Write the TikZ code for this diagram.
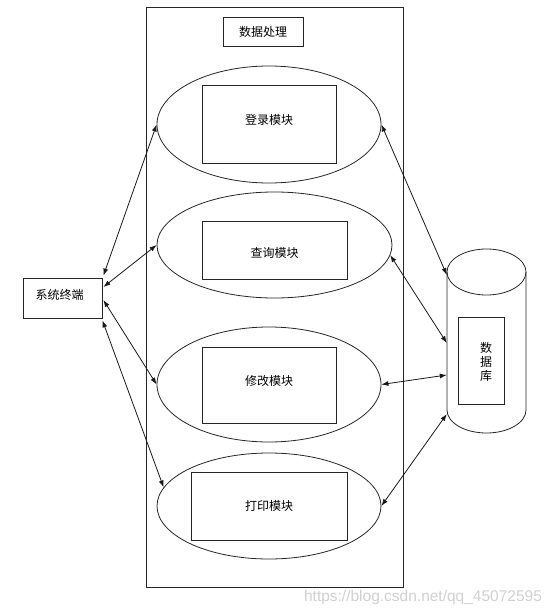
\documentclass[tikz,border=0pt]{standalone}
\usepackage{fontspec}
\newfontfamily\cjk{Noto Sans CJK SC}
\setsansfont{Liberation Sans}
\usetikzlibrary{shapes.geometric,arrows.meta,calc}
\begin{document}
\begin{tikzpicture}[x=1pt,y=-1pt,
  lin/.style={draw=black!85,line width=0.8pt},
  modell/.style={lin,ellipse,inner sep=0pt},
  cjkfont/.style={font=\cjk\fontsize{12}{14}\selectfont},
  modbox/.style={lin,rectangle,inner sep=0pt,cjkfont},
  conn/.style={draw=black!90,line width=0.8pt,{Latex[length=7pt,width=5pt]}-{Latex[length=7pt,width=5pt]}}
]
\useasboundingbox (0,0) rectangle (554,616);
\fill[white] (0,0) rectangle (554,616);
% outer frame
\node[lin,rectangle,minimum width=257,minimum height=580,inner sep=0pt] (frame) at (274.5,297) {};
\node[modbox,minimum width=80,minimum height=29] (title) at (263,31.5) {数据处理};
% ellipses
\node[modell,minimum width=224,minimum height=117] (e1) at (269,124.5) {};
\node[modell,minimum width=235,minimum height=106] (e2) at (274.5,245) {};
\node[modell,minimum width=224,minimum height=115] (e3) at (269,384.5) {};
\node[modell,minimum width=224,minimum height=106] (e4) at (269,506) {};
% inner boxes
\node[modbox,minimum width=134,minimum height=78,label={[cjkfont,yshift=4pt]center:登录模块}] (m1) at (269,124) {};
\node[modbox,minimum width=145,minimum height=58,label={[cjkfont,yshift=-3pt]center:查询模块}] (m2) at (274.5,250) {};
\node[modbox,minimum width=134,minimum height=76,label={[cjkfont,yshift=4pt]center:修改模块}] (m3) at (269,385) {};
\node[modbox,minimum width=156,minimum height=68] (m4) at (269,506) {打印模块};
% terminal
\node[modbox,minimum width=79,minimum height=40,label={[cjkfont,xshift=-3pt,yshift=3pt]center:系统终端}] (term) at (62.5,298) {};
% database cylinder body
\node[rectangle,inner sep=0pt,minimum width=79,minimum height=161] (db) at (486.5,352.5) {};
\draw[lin] (486.5,272) ellipse [x radius=39.5,y radius=23];
\draw[lin] (447,272) -- (447,410) arc [start angle=180,end angle=360,x radius=39.5,y radius=-23] -- (526,272);
\node[modbox,minimum width=46,minimum height=87,label={[cjkfont,align=center,xshift=5pt,yshift=-1pt]center:数\\据\\库}] (dbt) at (481,360.5) {};
% connectors left
\draw[conn] (e1.west) -- ($(term.north east)+(1,-2)$);
\draw[conn] (e2.west) -- ($(term.east)+(1,-11)$);
\draw[conn] ($(term.east)+(1,2)$) -- (e3.west);
\draw[conn] ($(term.south east)+(0,2)$) -- (e4.170);
% connectors right
\draw[conn] (e1.east) -- ($(db.west)+(0,-77.5)$);
\draw[conn] (e2.-5) -- ($(db.west)+(0,-9.5)$);
\draw[conn] (e3.east) -- ($(db.west)+(0,22.5)$);
\draw[conn] (e4.east) -- ($(db.west)+(0,61.5)$);
% watermark
\node[text=black!18,font=\sffamily\fontsize{15.5}{17}\selectfont,inner sep=0pt] (wm) at (423,597) {https://blog.csdn.net/qq\_45072595};
\end{tikzpicture}
\end{document}
